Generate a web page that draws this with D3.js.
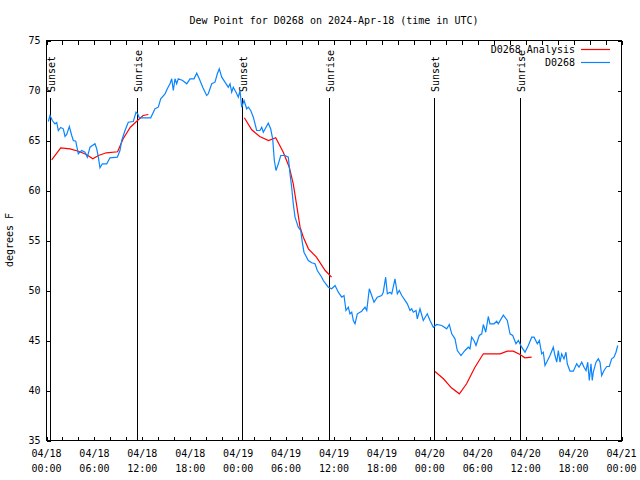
<!DOCTYPE html>
<html>
<head>
<meta charset="utf-8">
<script src="https://cdn.jsdelivr.net/npm/d3@7"></script>
<style>
  html, body { margin: 0; padding: 0; background: #fff; }
  svg { display: block; }
  text { font-family: "DejaVu Sans Mono", "Liberation Mono", monospace; font-size: 10px; fill: #000; }
</style>
</head>
<body>
<div id="chart"></div>
<script>
// ---------------- DATA ----------------
const chartTitle = "Dew Point for D0268 on 2024-Apr-18 (time in UTC)";
const yLabel = "degrees F";
const seriesNames = ["D0268 Analysis", "D0268"];
const startUTC = Date.UTC(2024, 3, 18, 0, 0);
const endUTC = Date.UTC(2024, 3, 21, 0, 0);
const yTicks = [35, 40, 45, 50, 55, 60, 65, 70, 75];

// observations: hours after 04/18 00:00 UTC, dew point (F)
const obsHours = [0.23,0.44,0.73,1.06,1.28,1.48,1.78,2.10,2.32,2.53,2.86,3.16,3.36,3.66,3.98,4.41,4.82,5.11,5.45,6.07,6.29,6.49,6.70,6.99,7.54,7.95,8.87,9.20,9.42,9.83,10.24,10.87,11.21,11.42,11.62,12.12,13.05,13.59,14.00,14.30,14.84,15.13,15.46,15.68,15.88,16.09,16.30,16.50,17.05,17.56,17.97,18.47,18.81,19.13,19.56,20.06,20.26,20.69,21.10,21.39,21.64,21.94,22.35,22.76,22.98,23.19,23.39,23.73,24.02,24.23,24.44,24.73,25.07,25.27,25.57,25.90,26.32,26.73,26.95,27.15,27.49,27.77,28.07,28.32,28.53,28.74,29.03,29.33,29.87,30.28,30.49,30.70,30.90,31.12,31.53,31.83,32.03,32.24,32.78,33.21,33.62,33.91,34.46,34.66,35.29,35.71,36.13,36.54,36.97,37.25,37.50,37.79,38.00,38.22,38.42,38.63,38.92,39.47,39.88,40.10,40.42,40.72,41.01,41.42,41.97,42.17,42.47,42.68,43.01,43.23,43.64,43.93,44.18,44.48,44.77,45.18,45.52,45.73,45.93,46.27,46.43,46.77,47.18,47.68,48.02,48.44,48.86,49.49,50.11,50.44,50.74,51.15,51.44,51.90,52.40,52.82,53.03,53.24,53.53,53.78,54.19,54.50,54.70,55.00,55.32,55.53,56.04,56.37,56.57,57.20,57.70,58.04,58.38,58.79,59.08,59.29,59.50,59.92,60.33,60.76,61.05,61.46,61.71,62.01,62.21,62.42,62.63,63.05,63.46,63.67,63.89,64.09,64.30,64.51,64.80,65.05,65.21,65.55,65.97,66.39,66.68,67.02,67.31,67.56,67.77,67.97,68.18,68.34,68.47,68.81,69.10,69.31,69.52,69.81,70.15,70.47,70.77,71.06,71.31,71.53];
const obsDew = [66.9,67.5,67.0,66.67,66.8,66.0,66.3,66.17,65.4,65.6,66.4,65.5,65.0,64.93,63.67,64.0,63.83,63.33,64.33,64.67,64.17,63.33,62.27,62.67,62.67,63.27,63.33,64.0,65.0,66.0,66.83,66.9,67.83,67.67,67.27,67.27,67.27,68.17,68.33,69.17,69.67,70.17,70.67,71.17,70.0,71.17,70.67,71.17,71.0,70.67,71.17,71.17,71.73,71.17,70.33,69.5,69.67,70.67,70.83,71.67,72.17,71.33,70.83,70.33,70.67,69.83,70.33,69.83,69.33,70.0,68.33,69.0,68.17,68.33,68.0,67.33,66.0,66.0,66.33,65.83,66.33,66.73,66.17,65.17,63.0,62.0,62.67,63.5,63.5,63.33,61.67,60.33,58.67,57.33,56.33,56.0,54.83,53.83,53.0,52.77,52.67,52.0,51.33,51.0,50.33,50.17,50.5,49.83,49.33,49.5,48.0,48.33,47.67,47.83,47.0,46.67,47.67,47.93,48.33,48.0,50.17,49.5,48.83,49.33,49.5,49.83,51.33,49.67,49.83,49.67,51.17,49.67,50.0,49.5,49.17,48.67,48.0,48.17,47.83,48.0,47.17,48.17,47.0,47.67,47.0,46.33,46.6,46.5,46.17,46.6,45.67,45.17,44.0,43.5,44.0,44.33,44.17,45.33,45.0,44.5,45.5,45.67,46.6,45.83,47.4,46.67,46.67,46.93,46.67,47.53,47.0,45.67,45.5,44.67,45.0,44.67,44.33,43.83,44.5,45.33,45.33,44.67,45.0,43.67,43.83,42.5,42.83,43.5,44.33,43.5,42.83,44.0,42.83,43.67,43.17,43.83,42.67,41.93,41.93,42.67,42.33,42.83,42.33,42.0,42.83,41.0,42.67,41.0,41.83,42.83,43.17,42.83,41.5,42.0,42.4,42.4,43.17,43.33,43.83,44.5];

// analysis: hours after 04/18 00:00 UTC (null = gap), dew point (F)
const anaHours = [0.65,1.78,2.94,4.0,5.0,5.8,6.5,7.5,8.9,9.6,10.5,11.4,12.1,12.75,null,24.77,25.7,26.7,27.8,28.7,29.65,30.4,30.9,31.3,31.75,32.16,32.8,33.8,34.9,35.7,null,48.65,49.7,50.7,51.7,52.6,53.65,54.7,56.8,57.7,58.45,59.3,59.9,60.75];
const anaDew = [63.07,64.27,64.17,63.93,63.6,63.17,63.5,63.77,63.87,65.17,66.33,67.0,67.5,67.6,null,67.27,66.07,65.4,65.0,65.27,63.83,62.33,60.67,58.67,56.33,55.33,54.17,53.33,52.0,51.33,null,41.9,41.17,40.27,39.67,40.67,42.33,43.67,43.67,43.93,43.93,43.6,43.27,43.33];

// sunrise / sunset markers (hours after 04/18 00:00 UTC)
const sunHours = [0.48, 11.37, 24.52, 35.41, 48.56, 59.33];
const sunLabels = ["Sunset", "Sunrise", "Sunset", "Sunrise", "Sunset", "Sunrise"];

// ---------------- CHART ----------------
const W = 640, H = 480;
const L = 46.5, R = 621.5, T = 40.5, B = 440.5;
const colAna = "#ff0000", colObs = "#0a84ff";
const toDate = h => new Date(startUTC + h * 3600000);

const svg = d3.select("#chart").append("svg").attr("width", W).attr("height", H);

const x = d3.scaleUtc().domain([new Date(startUTC), new Date(endUTC)]).range([L, R]);
const y = d3.scaleLinear().domain([35, 75]).range([B, T]);

// title
svg.append("text").attr("x", (L + R) / 2).attr("y", 24).attr("text-anchor", "middle").text(chartTitle);
// y label
svg.append("text").attr("transform", "translate(13,240) rotate(-90)").attr("text-anchor", "middle").text(yLabel);

// axes ticks
const minorTicks = d3.utcHour.every(2).range(new Date(startUTC), new Date(endUTC + 1));
const majorTicks = d3.utcHour.every(6).range(new Date(startUTC), new Date(endUTC + 1));

function styleAxis(g) {
  g.select(".domain").remove();
  g.selectAll("line").attr("stroke", "#000").attr("shape-rendering", "crispEdges");
}
svg.append("g").attr("transform", `translate(0,${B})`)
  .call(d3.axisBottom(x).tickValues(minorTicks).tickSizeInner(-4).tickSizeOuter(0).tickFormat(() => ""))
  .call(styleAxis);
svg.append("g").attr("transform", `translate(0,${T})`)
  .call(d3.axisTop(x).tickValues(minorTicks).tickSizeInner(-4).tickSizeOuter(0).tickFormat(() => ""))
  .call(styleAxis);
svg.append("g").attr("transform", `translate(${L},0)`)
  .call(d3.axisLeft(y).tickValues(yTicks).tickSizeInner(-4).tickSizeOuter(0).tickPadding(6).tickFormat(d3.format("d")))
  .call(styleAxis)
  .call(g => g.selectAll("text").attr("font-family", null).attr("font-size", null).attr("fill", "#000"));
svg.append("g").attr("transform", `translate(${R},0)`)
  .call(d3.axisRight(y).tickValues(yTicks).tickSizeInner(-4).tickSizeOuter(0).tickFormat(() => ""))
  .call(styleAxis);

// x labels (two lines)
const fDay = d3.utcFormat("%m/%d"), fTime = d3.utcFormat("%H:%M");
const xl = svg.append("g").selectAll("text").data(majorTicks).join("text")
  .attr("text-anchor", "middle");
xl.append("tspan").attr("x", d => x(d)).attr("y", 457).text(d => fDay(d));
xl.append("tspan").attr("x", d => x(d)).attr("y", 472).text(d => fTime(d));

// sunrise/sunset lines
const sun = svg.append("g").selectAll("g").data(sunHours.map((h, i) => ({ h, label: sunLabels[i] }))).join("g");
sun.append("line")
  .attr("x1", d => Math.round(x(toDate(d.h))) + 0.5).attr("x2", d => Math.round(x(toDate(d.h))) + 0.5)
  .attr("y1", 98).attr("y2", B)
  .attr("stroke", "#000").attr("shape-rendering", "crispEdges");
sun.append("text")
  .attr("transform", d => `translate(${Math.round(x(toDate(d.h))) + 5},92) rotate(-90)`)
  .attr("text-anchor", "start")
  .text(d => d.label);

// frame
svg.append("rect").attr("x", L).attr("y", T).attr("width", R - L).attr("height", B - T)
  .attr("fill", "none").attr("stroke", "#000").attr("shape-rendering", "crispEdges");

// series
const anaData = anaHours.map((h, i) => ({ h, v: anaDew[i] }));
const obsData = obsHours.map((h, i) => ({ h, v: obsDew[i] }));
const line = d3.line().defined(d => d.h != null && d.v != null).x(d => x(toDate(d.h))).y(d => y(d.v));

svg.append("path").datum(anaData).attr("d", line).attr("fill", "none").attr("stroke", colAna).attr("stroke-width", 1.2);
svg.append("path").datum(obsData).attr("d", line).attr("fill", "none").attr("stroke", colObs).attr("stroke-width", 1.2);

// legend
const legend = svg.append("g");
[{ name: seriesNames[0], c: colAna, y: 49.5 }, { name: seriesNames[1], c: colObs, y: 62.5 }].forEach(d => {
  legend.append("text").attr("x", 575).attr("y", d.y).attr("dy", "0.35em").attr("text-anchor", "end").text(d.name);
  legend.append("line").attr("x1", 581).attr("x2", 610).attr("y1", d.y).attr("y2", d.y)
    .attr("stroke", d.c).attr("stroke-width", 1.2);
});
</script>
</body>
</html>
